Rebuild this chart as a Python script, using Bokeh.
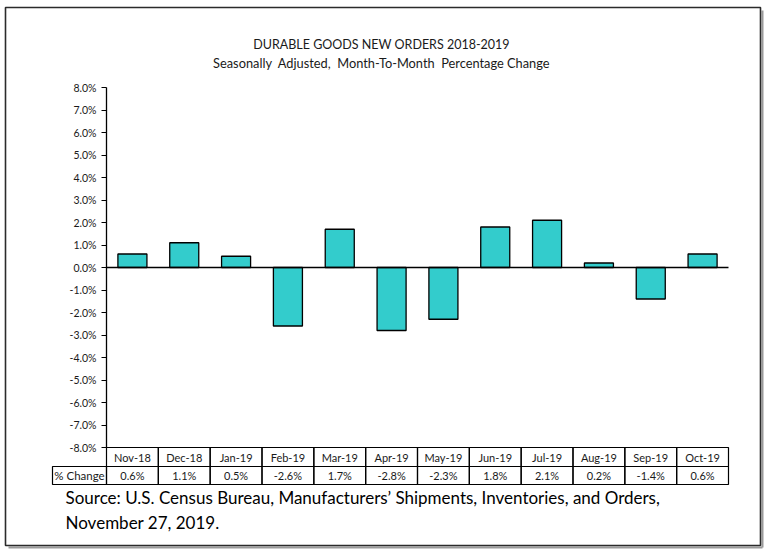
from bokeh.plotting import figure
from bokeh.models import (Range1d, Label, BoxAnnotation, LinearAxis,
                          PrintfTickFormatter, FixedTicker, ColumnDataSource)
from bokeh.core.properties import value
from bokeh.embed import file_html
from bokeh.resources import INLINE

# ---- data ----
months = ["Nov-18", "Dec-18", "Jan-19", "Feb-19", "Mar-19", "Apr-19",
          "May-19", "Jun-19", "Jul-19", "Aug-19", "Sep-19", "Oct-19"]
pct_change = [0.6, 1.1, 0.5, -2.6, 1.7, -2.8, -2.3, 1.8, 2.1, 0.2, -1.4, 0.6]
pct_labels = ["0.6%", "1.1%", "0.5%", "-2.6%", "1.7%", "-2.8%",
              "-2.3%", "1.8%", "2.1%", "0.2%", "-1.4%", "0.6%"]
y_ticks = [-8, -7, -6, -5, -4, -3, -2, -1, 0, 1, 2, 3, 4, 5, 6, 7, 8]
title_text = "DURABLE GOODS NEW ORDERS 2018-2019"
subtitle_text = "Seasonally\u00a0 Adjusted,\u00a0 Month-To-Month\u00a0 Percentage Change"
row_header = "% Change"
source_lines = ["Source: U.S. Census Bureau, Manufacturers\u2019 Shipments, Inventories, and Orders,",
                "November 27, 2019."]

FONT = "Lato"
TXT = "#1a1a1a"
BAR = "#33CCCC"

# ---- layout geometry (pixels of the page) ----
W, H = 768, 551
PX0, PXW = 106.0, 51.833      # left edge of first category, pixels per category
PY0, PYU = 267.0, 22.5        # pixel row of 0 %, pixels per 1 %

def X(px):
    return (px - PX0) / PXW

def Y(py):
    return (PY0 - py) / PYU

p = figure(width=W, height=H,
           x_range=Range1d(X(0), X(W)), y_range=Range1d(Y(H), Y(0)),
           output_backend="svg", toolbar_location=None,
           x_axis_location=None, y_axis_location=None, min_border=0)
p.title.text = ""
p.outline_line_color = None
p.grid.visible = False
p.background_fill_color = "white"
p.border_fill_color = "white"

n = len(months)
xc = [i + 0.5 for i in range(n)]
src = ColumnDataSource(dict(x=xc, left=[i for i in range(n)], right=[i + 1 for i in range(n)],
                            top=pct_change, month=months, lab=pct_labels))

# bars
p.vbar(x="x", top="top", bottom=0, width=0.56, source=src,
       fill_color=BAR, line_color="black", line_width=1.3)

# zero line across the category area
p.segment(x0=0, x1=n, y0=0, y1=0, line_color="black", line_width=1.4)

# y axis, placed at the left edge of the category area
ax = LinearAxis(fixed_location=0, bounds=(-8, 8))
ax.ticker = FixedTicker(ticks=y_ticks)
ax.formatter = PrintfTickFormatter(format="%.1f%%")
ax.major_tick_in = 0
ax.major_tick_out = 5
ax.minor_tick_line_color = None
ax.axis_line_color = "black"
ax.axis_line_width = 1.3
ax.major_tick_line_color = "black"
ax.major_label_text_font = FONT
ax.major_label_text_font_size = "10.5px"
ax.major_label_text_color = TXT
ax.major_label_standoff = 5
p.add_layout(ax, "left")

# ---- data table under the chart ----
R0, R1, R2 = Y(447), Y(466), Y(484)
p.quad(left="left", right="right", top=R0, bottom=R1, source=src,
       fill_color=None, line_color="black", line_width=1.2)
p.quad(left="left", right="right", top=R1, bottom=R2, source=src,
       fill_color=None, line_color="black", line_width=1.2)
p.quad(left=X(52), right=0, top=R1, bottom=R2,
       fill_color=None, line_color="black", line_width=1.2)
p.text(x="x", y=(R0 + R1) / 2, text="month", source=src, text_align="center",
       text_baseline="middle", text_font=value(FONT), text_font_size="11px", text_color=TXT)
p.text(x="x", y=(R1 + R2) / 2, text="lab", source=src, text_align="center",
       text_baseline="middle", text_font=value(FONT), text_font_size="11px", text_color=TXT)
p.add_layout(Label(x=X(79), y=(R1 + R2) / 2, text=row_header, text_align="center",
                   text_baseline="middle", text_font=FONT, text_font_size="11.5px",
                   text_color=TXT))

# ---- titles ----
p.add_layout(Label(x=X(381), y=Y(44), text=title_text, text_align="center",
                   text_baseline="middle", text_font=FONT, text_font_size="12.5px",
                   text_color=TXT))
p.add_layout(Label(x=X(381), y=Y(62), text=subtitle_text, text_align="center",
                   text_baseline="middle", text_font=FONT, text_font_size="12.8px",
                   text_color=TXT))

# ---- source ----
for k, line in enumerate(source_lines):
    p.add_layout(Label(x=X(65), y=Y(497 + 25 * k), text=line, text_align="left",
                       text_baseline="middle", text_font=FONT, text_font_size="17px",
                       text_color="black"))

# ---- outer frame with a light shadow ----
p.segment(x0=X(762), x1=X(762), y0=Y(10), y1=Y(547), line_color="#9a9a9a", line_width=2)
p.segment(x0=X(8), x1=X(762), y0=Y(547), y1=Y(547), line_color="#9a9a9a", line_width=2)
p.add_layout(BoxAnnotation(left=X(5), right=X(760), top=Y(7), bottom=Y(545),
                           fill_color=None, fill_alpha=0, line_color="#2b2b2b",
                           line_alpha=1.0, line_width=1.6))

open("out.html", "w").write(file_html(p, INLINE))
